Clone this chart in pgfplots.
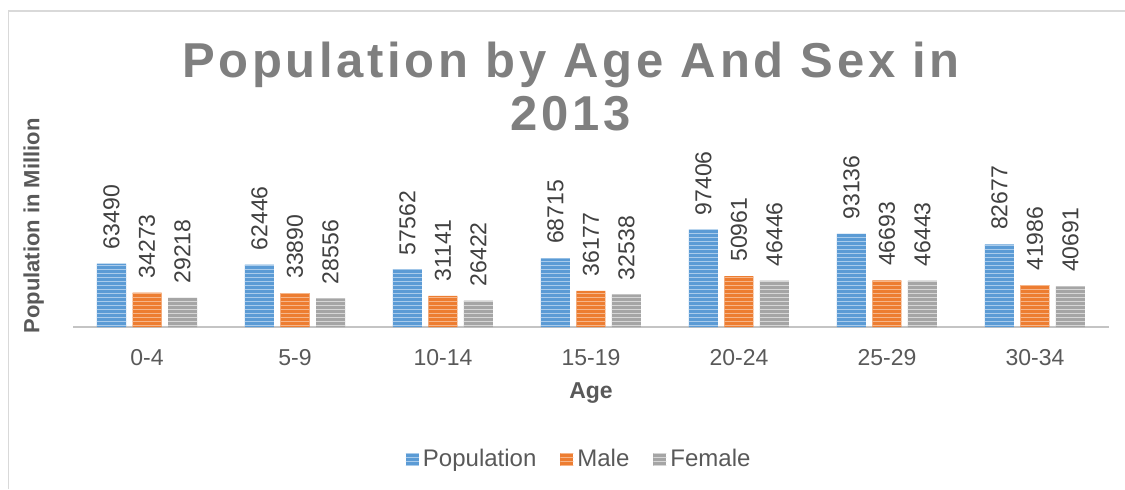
\documentclass[border=0pt]{standalone}
\usepackage{fontspec}
\setmainfont{Liberation Sans}
\newfontfamily\titlefont[LetterSpace=7.5]{Liberation Sans}
\usepackage{pgfplots}
\pgfplotsset{compat=1.18}
\usepackage{pgfplotstable}
\usetikzlibrary{patterns.meta}

\definecolor{popblue}{HTML}{5B9BD5}
\definecolor{popblueL}{HTML}{A9CBEB}
\definecolor{maleor}{HTML}{ED7D31}
\definecolor{maleorL}{HTML}{F6B68A}
\definecolor{femgray}{HTML}{A5A5A5}
\definecolor{femgrayL}{HTML}{D6D6D6}
\definecolor{ticktext}{HTML}{595959}
\definecolor{labtext}{HTML}{404040}
\definecolor{titlegray}{HTML}{7F7F7F}
\definecolor{axisgray}{HTML}{C4C4C4}
\definecolor{framegray}{HTML}{D9D9D9}

\newcommand\lab{\fontsize{11.5}{13}\selectfont}

\pgfplotstableread{
x label pop male female
0 0-4 63490 34273 29218
1 5-9 62446 33890 28556
2 10-14 57562 31141 26422
3 15-19 68715 36177 32538
4 20-24 97406 50961 46446
5 25-29 93136 46693 46443
6 30-34 82677 41986 40691
}\agedata

\pgfplotsset{
  stripebar/.style 2 args={fill=#1, draw=none,
    postaction={pattern={Lines[angle=0,distance=2pt,line width=0.5pt]}, pattern color=#2}},
}

\begin{document}
\begin{tikzpicture}
\useasboundingbox (0,0) rectangle (562.5pt,244.5pt);
% chart frame (left and top edges only visible)
\draw[framegray, line width=0.8pt] (4.2pt,0) -- (4.2pt,239pt) -- (562.5pt,239pt);

\begin{axis}[
  at={(36.5pt,81pt)}, anchor=south west,
  scale only axis, width=518pt, height=100pt,
  xmin=-0.5, xmax=6.5, ymin=0, ymax=200000,
  axis x line=bottom, axis y line=none,
  axis line style={line width=1.4pt, color=axisgray, -},
  xtick={0,...,6}, xticklabels from table={\agedata}{label},
  major tick length=0pt,
  xticklabel style={anchor=base, yshift=-19pt, font=\lab, text=ticktext},
  ybar=3.25pt, bar width=14.5pt,
  point meta=explicit symbolic,
  nodes near coords,
  nodes near coords style={rotate=90, anchor=west, inner xsep=7pt, font=\lab, text=labtext},
  legend columns=3,
  legend image code/.code={\fill[#1] (0pt,-3.25pt) rectangle (6.5pt,3.25pt);},
  legend style={at={(0.4896,-0.66)}, anchor=center, draw=none, fill=none,
    font=\fontsize{12}{14}\selectfont, text=ticktext,
    /tikz/every even column/.append style={column sep=10pt}},
]
\addplot[stripebar={popblue}{popblueL}] table[x=x, y=pop, meta=pop] {\agedata};
\addplot[stripebar={maleor}{maleorL}] table[x=x, y=male, meta=male] {\agedata};
\addplot[stripebar={femgray}{femgrayL}] table[x=x, y=female, meta=female] {\agedata};
\legend{Population, Male, Female}
\end{axis}

\node[anchor=base, text=titlegray, font=\titlefont\bfseries\fontsize{24.5}{28}\selectfont] at (285.5pt,206pt) {Population by Age And Sex in};
\node[anchor=base, text=titlegray, font=\titlefont\bfseries\fontsize{24.5}{28}\selectfont] at (285.5pt,179.5pt) {2013};
\node[rotate=90, text=ticktext, font=\bfseries\fontsize{11}{13}\selectfont] at (16.8pt,131.5pt) {Population in Million};
\node[text=ticktext, font=\bfseries\lab] at (295.5pt,48pt) {Age};
\end{tikzpicture}
\end{document}
